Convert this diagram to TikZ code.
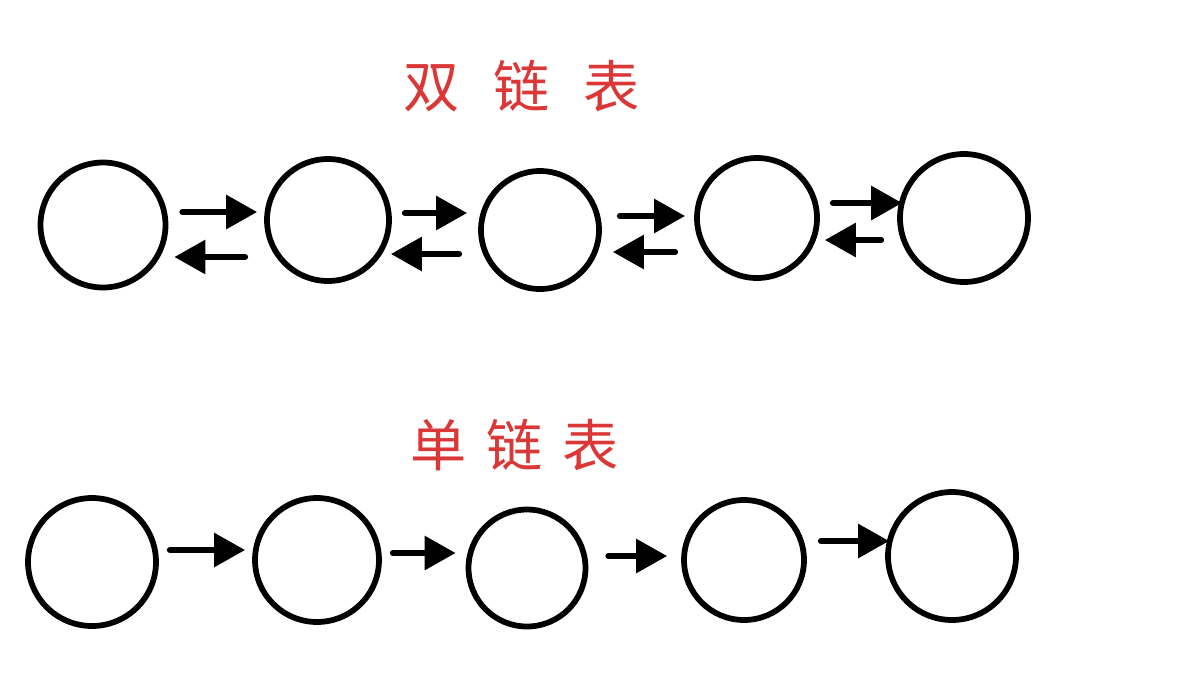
\documentclass[tikz,border=0pt]{standalone}
\usepackage{fontspec}
\newfontfamily\cjk{Noto Sans CJK SC}
\usetikzlibrary{arrows.meta}

\definecolor{penred}{RGB}{220,55,55}

\begin{document}
\begin{tikzpicture}[x=0.02cm, y=-0.02cm,
    cell/.style={circle, draw=black, line width=0.115cm, inner sep=0pt},
    link/.style={line width=0.12cm, line cap=round,
      -{Triangle[length=0.62cm, width=0.66cm]}},
    lbl/.style={penred, font=\cjk\fontsize{32}{32}\selectfont}]

  \useasboundingbox (0,0) rectangle (1185,684);

  % titles
  \node[lbl] (ttldbl) at (522,86) {\addfontfeature{LetterSpace=60}双链表};
  \node[lbl] (ttlsgl) at (515,445) {\addfontfeature{LetterSpace=35}单链表};

  % doubly linked list
  \node[cell, minimum size=2.50cm] (t1) at (103,225) {};
  \node[cell, minimum size=2.44cm] (t2) at (328,220) {};
  \node[cell, minimum size=2.36cm] (t3) at (540,230) {};
  \node[cell, minimum size=2.40cm] (t4) at (757,218) {};
  \node[cell, minimum size=2.56cm] (t5) at (964,218) {};

  \draw[link] ([shift={(14,-13)}]t1.east) -- ([shift={(-7,-8)}]t2.west);
  \draw[link] ([shift={(-19,37)}]t2.west) -- ([shift={(6,32)}]t1.east);
  \draw[link] ([shift={(13,-7)}]t2.east) -- ([shift={(-11,-17)}]t3.west);
  \draw[link] ([shift={(-19,24)}]t3.west) -- ([shift={(-1,34)}]t2.east);
  \draw[link] ([shift={(18,-14)}]t3.east) -- ([shift={(-9,-2)}]t4.west);
  \draw[link] ([shift={(-19,34)}]t4.west) -- ([shift={(11,22)}]t3.east);
  \draw[link] ([shift={(13,-15)}]t4.east) -- ([shift={(5,-15)}]t5.west);
  \draw[link] ([shift={(-16,22)}]t5.west) -- ([shift={(5,22)}]t4.east);

  % singly linked list
  \node[cell, minimum size=2.56cm] (b1) at (92,562) {};
  \node[cell, minimum size=2.48cm] (b2) at (317,560) {};
  \node[cell, minimum size=2.34cm] (b3) at (527,568) {};
  \node[cell, minimum size=2.40cm] (b4) at (744,560) {};
  \node[cell, minimum size=2.56cm] (b5) at (952,556) {};

  \draw[link] ([shift={(11,-12)}]b1.east) -- ([shift={(-7,-10)}]b2.west);
  \draw[link] ([shift={(11,-7)}]b2.east) -- ([shift={(-10,-15)}]b3.west);
  \draw[link] ([shift={(20,-12)}]b3.east) -- ([shift={(-14,-4)}]b4.west);
  \draw[link] ([shift={(14,-19)}]b4.east) -- ([shift={(4,-15)}]b5.west);

\end{tikzpicture}
\end{document}
